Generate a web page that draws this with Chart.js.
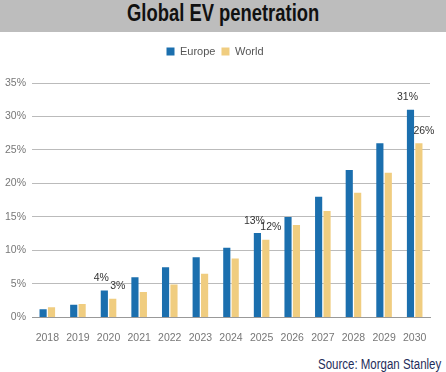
<!DOCTYPE html>
<html>
<head>
<meta charset="utf-8">
<script src="https://cdn.jsdelivr.net/npm/chart.js@4"></script>
<style>
  body { margin: 0; width: 446px; height: 372px; background: #fff; overflow: hidden; }
  .title { height: 32px; background: #bdbdbd; text-align: center; line-height: 32px; color: #111; }
  .title span { display: inline-block; font: bold 23px "Liberation Sans", Arial, sans-serif; transform: scaleX(0.8); }
  .wrap { position: relative; width: 446px; height: 318px; }
  .source { position: absolute; right: 5px; top: 355px; color: #1f2d5a; }
  .source span { display: inline-block; font: 14px "Liberation Sans", Arial, sans-serif; transform: scaleX(0.82); transform-origin: right center; }
</style>
</head>
<body>
<div class="title"><span>Global EV penetration</span></div>
<div class="wrap"><canvas id="evChart"></canvas></div>
<div class="source"><span>Source: Morgan Stanley</span></div>
<script>
// 数据
const years = ['2018', '2019', '2020', '2021', '2022', '2023', '2024', '2025', '2026', '2027', '2028', '2029', '2030'];
const europe = [1.2, 1.9, 4.0, 6.0, 7.5, 9.0, 10.4, 12.6, 15.0, 18.0, 22.0, 26.0, 31.0];
const world = [1.5, 2.0, 2.8, 3.8, 4.9, 6.5, 8.8, 11.6, 13.8, 15.9, 18.6, 21.6, 26.0];
const yTicks = [0, 5, 10, 15, 20, 25, 30, 35];
// 标注的柱子: [年份索引, 文字]
const europeLabels = [[2, '4%'], [7, '13%'], [12, '31%']];
const worldLabels = [[2, '3%'], [7, '12%'], [12, '26%']];

const font = '"Liberation Sans", Arial, sans-serif';

// 数值标注插件
const barLabels = {
    id: 'barLabels',
    afterDatasetsDraw(chart) {
        const ctx = chart.ctx;
        ctx.save();
        ctx.font = '10.5px ' + font;
        ctx.fillStyle = '#333';
        ctx.textAlign = 'center';
        ctx.textBaseline = 'bottom';
        [[0, europeLabels, -3], [1, worldLabels, 5]].forEach(function(item) {
            const meta = chart.getDatasetMeta(item[0]);
            item[1].forEach(function(l) {
                const bar = meta.data[l[0]];
                ctx.fillText(l[1], bar.x + item[2], bar.y - 7);
            });
        });
        ctx.restore();
    }
};

// 图例下方留空
const legendGap = {
    id: 'legendGap',
    beforeInit(chart) {
        const fit = chart.legend.fit;
        chart.legend.fit = function() {
            fit.bind(chart.legend)();
            this.height += 16;
        };
    }
};

const ctx = document.getElementById('evChart').getContext('2d');
new Chart(ctx, {
    type: 'bar',
    data: {
        labels: years,
        datasets: [
            { label: 'Europe', data: europe, backgroundColor: '#1b6fae', categoryPercentage: 0.55, barPercentage: 0.85 },
            { label: 'World', data: world, backgroundColor: '#f0cd80', categoryPercentage: 0.55, barPercentage: 0.85 }
        ]
    },
    options: {
        responsive: true,
        maintainAspectRatio: false,
        animation: false,
        layout: { padding: { left: 0, right: 16, top: 8, bottom: 0 } },
        plugins: {
            legend: {
                position: 'top',
                labels: {
                    boxWidth: 8, boxHeight: 8, padding: 6,
                    color: '#555',
                    font: { family: font, size: 11 }
                }
            },
            tooltip: { enabled: false }
        },
        scales: {
            x: {
                grid: { display: false },
                border: { color: '#999' },
                ticks: { color: '#777', font: { family: font, size: 10.5 }, maxRotation: 0, padding: 6 }
            },
            y: {
                min: 0, max: 35,
                afterBuildTicks: function(scale) { scale.ticks = yTicks.map(v => ({ value: v })); },
                afterFit: function(scale) { scale.width = 32; },
                grid: { color: '#bbb', drawTicks: false },
                border: { display: false },
                ticks: { color: '#777', font: { family: font, size: 10.5 }, padding: 6, callback: v => v + '%' }
            }
        }
    },
    plugins: [barLabels, legendGap]
});
</script>
</body>
</html>
